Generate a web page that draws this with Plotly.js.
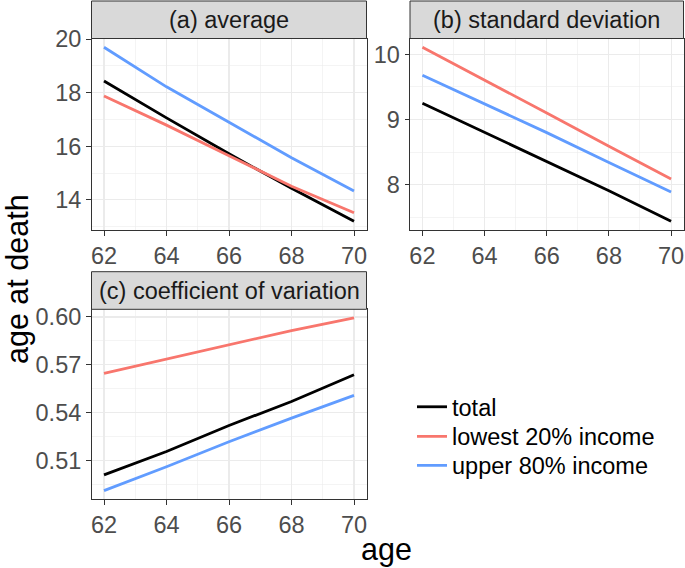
<!DOCTYPE html>
<html>
<head>
<meta charset="utf-8">
<script src="https://cdn.plot.ly/plotly-3.0.1.min.js"></script>
<style>html,body{margin:0;padding:0;background:#fff}</style>
</head>
<body>
<div id="chart" style="width:685px;height:568px"></div>
<script>
// ---- data ----
const ages = [62, 64, 66, 68, 70];
const seriesNames = ["total", "lowest 20% income", "upper 80% income"];
const seriesColors = ["#000000", "#F8766D", "#619CFF"];

// (a) average
const avgTotal  = [18.44, 17.06, 15.72, 14.43, 13.20];
const avgLowest = [17.88, 16.79, 15.65, 14.51, 13.52];
const avgUpper  = [19.70, 18.22, 16.90, 15.57, 14.33];
// (b) standard deviation
const sdTotal  = [9.25, 8.80, 8.36, 7.91, 7.44];
const sdLowest = [10.11, 9.61, 9.10, 8.59, 8.09];
const sdUpper  = [9.68, 9.24, 8.80, 8.34, 7.89];
// (c) coefficient of variation
const cvTotal  = [0.5012, 0.5158, 0.5321, 0.5471, 0.5638];
const cvLowest = [0.5647, 0.5737, 0.5825, 0.5915, 0.5994];
const cvUpper  = [0.4913, 0.5063, 0.5219, 0.5367, 0.5509];

const xTicks = [62, 64, 66, 68, 70];
const yTicksA = [14, 16, 18, 20];
const yTicksB = [8, 9, 10];
const yTicksC = [0.51, 0.54, 0.57, 0.60];
const stripLabels = ["(a) average", "(b) standard deviation", "(c) coefficient of variation"];
const xTitle = "age";
const yTitle = "age at death";

// ---- layout helpers ----
const W = 685, H = 568;
const px = v => v / W;
const py = v => 1 - v / H;
const FONT = '"Liberation Sans", Arial, Helvetica, sans-serif';

const panels = [
  {xa: "x",  ya: "y",  x0: 91.5, x1: 366.5, top: 38.5, bot: 230,   stripTop: 1,     ys: [avgTotal, avgLowest, avgUpper], yticks: yTicksA, fmt: "",    minor0: 13,    minorD: 2},
  {xa: "x2", ya: "y2", x0: 410,  x1: 683.5, top: 38.5, bot: 230,   stripTop: 1,     ys: [sdTotal, sdLowest, sdUpper],   yticks: yTicksB, fmt: "",    minor0: 7.5,   minorD: 1},
  {xa: "x3", ya: "y3", x0: 91.5, x1: 366.5, top: 309.3, bot: 499.3, stripTop: 271.7, ys: [cvTotal, cvLowest, cvUpper],   yticks: yTicksC, fmt: ".2f", minor0: 0.495, minorD: 0.03}
];

const legendIds = ["legend", "legend2", "legend3"];
const legendRowsY = [407, 436.5, 465.5];

const traces = [];
const layout = {
  width: W, height: H, autosize: false,
  margin: {l: 0, r: 0, t: 0, b: 0, pad: 0},
  paper_bgcolor: "#ffffff", plot_bgcolor: "#ffffff",
  font: {family: FONT, size: 23.5, color: "#4d4d4d"},
  showlegend: true,
  shapes: [], annotations: []
};
legendIds.forEach((id, k) => {
  layout[id] = {
    x: px(412), y: py(legendRowsY[k]), xanchor: "left", yanchor: "middle",
    font: {family: FONT, size: 23.5, color: "#000000"},
    bgcolor: "rgba(0,0,0,0)", borderwidth: 0
  };
});

function rangeOf(arrs) {
  let mn = Infinity, mx = -Infinity;
  arrs.forEach(a => a.forEach(v => { mn = Math.min(mn, v); mx = Math.max(mx, v); }));
  const e = (mx - mn) * 0.05;
  return [mn - e, mx + e];
}

panels.forEach((p, i) => {
  p.ys.forEach((yv, s) => {
    traces.push({
      type: "scatter", mode: "lines", x: ages, y: yv,
      xaxis: p.xa, yaxis: p.ya,
      name: seriesNames[s], legend: legendIds[s],
      showlegend: i === 0,
      line: {color: seriesColors[s], width: 2.8},
      hoverinfo: "skip"
    });
  });
  const xr = rangeOf([ages]);
  const yr = rangeOf(p.ys);
  const common = {
    showline: true, mirror: true, linecolor: "#333333", linewidth: 1,
    ticks: "outside", ticklen: 4.5, tickwidth: 1, tickcolor: "#333333",
    showgrid: true, gridcolor: "#ebebeb", gridwidth: 1.1, zeroline: false,
    tickfont: {family: FONT, size: 23.5, color: "#4d4d4d"}, fixedrange: true
  };
  const xk = "xaxis" + (i === 0 ? "" : i + 1);
  const yk = "yaxis" + (i === 0 ? "" : i + 1);
  layout[xk] = Object.assign({}, common, {
    domain: [px(p.x0), px(p.x1)], range: xr, anchor: p.ya,
    tickmode: "array", tickvals: xTicks, ticktext: xTicks.map(String),
    minor: {tick0: 63, dtick: 2, showgrid: true, gridcolor: "#ebebeb", gridwidth: 0.55, ticks: ""}
  });
  layout[yk] = Object.assign({}, common, {
    domain: [py(p.bot), py(p.top)], range: yr, anchor: p.xa,
    tickmode: "array", tickvals: p.yticks,
    ticktext: p.yticks.map(v => p.fmt ? v.toFixed(2) : String(v)),
    minor: {tick0: p.minor0, dtick: p.minorD, showgrid: true, gridcolor: "#ebebeb", gridwidth: 0.55, ticks: ""}
  });
  // strip
  layout.shapes.push({
    type: "rect", xref: "paper", yref: "paper",
    x0: px(p.x0), x1: px(p.x1), y0: py(p.top), y1: py(p.stripTop),
    fillcolor: "#d9d9d9", line: {color: "#333333", width: 1}, layer: "above"
  });
  layout.annotations.push({
    xref: "paper", yref: "paper", x: px((p.x0 + p.x1) / 2), y: py((p.top + p.stripTop) / 2),
    xanchor: "center", yanchor: "middle", showarrow: false,
    text: stripLabels[i], font: {family: FONT, size: 23.5, color: "#1a1a1a"}
  });
});

layout.annotations.push({
  xref: "paper", yref: "paper", x: px(387), y: py(549), xanchor: "center", yanchor: "middle",
  showarrow: false, text: xTitle, font: {family: FONT, size: 30.5, color: "#000000"}
});
layout.annotations.push({
  xref: "paper", yref: "paper", x: px(17), y: py(279), xanchor: "center", yanchor: "middle",
  showarrow: false, textangle: -90, text: yTitle, font: {family: FONT, size: 30.5, color: "#000000"}
});

Plotly.newPlot("chart", traces, layout, {staticPlot: true, displayModeBar: false});
</script>
</body>
</html>
